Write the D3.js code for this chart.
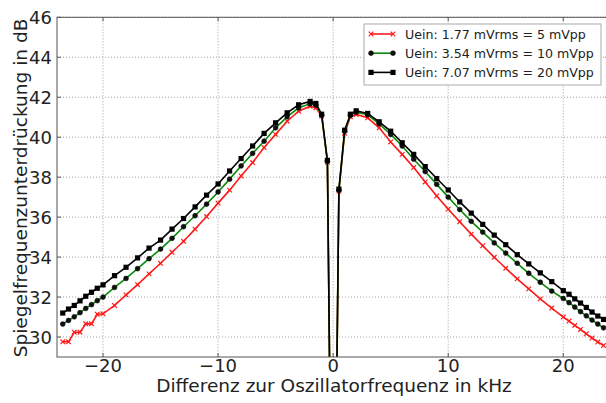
<!DOCTYPE html>
<html>
<head>
<meta charset="utf-8">
<script src="https://cdn.jsdelivr.net/npm/d3@7"></script>
<style>
  body { margin: 0; background: #fff; }
  text { font-family: "DejaVu Sans", sans-serif; fill: #222; }
</style>
</head>
<body>
<svg width="606" height="403"></svg>
<script>
// frequency offset in kHz, shared by all three measurements
var freq = [-23.5, -23, -22.5, -22, -21.5, -21, -20.5, -20, -19, -18, -17, -16, -15, -14, -13, -12, -11, -10,
  -9, -8, -7, -6, -5, -4, -3, -2, -1.5, -1, -0.5, 0, 0.5, 1, 1.5, 2, 3, 4, 5, 6, 7, 8, 9, 10,
  11, 12, 13, 14, 15, 16, 17, 18, 19, 20, 20.5, 21, 21.5, 22, 22.5, 23, 23.5];

// image rejection in dB
var u5 = [29.76, 29.76, 30.24, 30.24, 30.66, 30.66, 31.14, 31.16, 31.58, 32.11, 32.62, 33.16, 33.69, 34.24, 34.79, 35.4, 36.03, 36.7,
  37.35, 38.06, 38.73, 39.48, 40.14, 40.8, 41.3, 41.55, 41.47, 41.06, 38.75, 12, 37.3, 40.2, 41.02, 41.14, 40.97, 40.47, 39.76, 39.14, 38.48, 37.76, 37.06, 36.4,
  35.77, 35.15, 34.57, 33.99, 33.44, 32.91, 32.41, 31.91, 31.45, 31.0, 30.8, 30.58, 30.38, 30.16, 29.95, 29.75, 29.58];
var u10 = [30.65, 30.83, 31.01, 31.22, 31.43, 31.62, 31.82, 32.0, 32.48, 32.93, 33.42, 33.92, 34.4, 34.94, 35.52, 36.07, 36.65, 37.26,
  37.9, 38.56, 39.19, 39.8, 40.47, 41.02, 41.47, 41.67, 41.6, 41.1, 38.8, 12, 37.35, 40.3, 41.09, 41.25, 41.12, 40.67, 40.14, 39.56, 38.9, 38.28, 37.64, 37.0,
  36.38, 35.79, 35.25, 34.71, 34.2, 33.69, 33.19, 32.74, 32.3, 31.93, 31.72, 31.5, 31.27, 31.06, 30.85, 30.65, 30.46];
var u20 = [31.2, 31.4, 31.58, 31.81, 32.04, 32.24, 32.44, 32.61, 33.07, 33.49, 33.96, 34.45, 34.85, 35.4, 35.93, 36.51, 37.1, 37.66,
  38.31, 38.93, 39.56, 40.19, 40.72, 41.22, 41.62, 41.79, 41.69, 41.15, 38.84, 12, 37.4, 40.35, 41.15, 41.32, 41.19, 40.77, 40.3, 39.72, 39.14, 38.53, 37.93, 37.36,
  36.76, 36.2, 35.64, 35.1, 34.62, 34.12, 33.66, 33.21, 32.77, 32.32, 32.14, 31.91, 31.7, 31.48, 31.25, 31.05, 30.88];

var xTicks = [-20, -10, 0, 10, 20];
var yTicks = [30, 32, 34, 36, 38, 40, 42, 44, 46];
var labels = ["Uein: 1.77 mVrms = 5 mVpp", "Uein: 3.54 mVrms = 10 mVpp", "Uein: 7.07 mVrms = 20 mVpp"];

var svg = d3.select("svg");

var pLeft = 57, pRight = 609.3, pTop = 17.3, pBottom = 357;

var x = d3.scaleLinear().domain([-24, 24]).range([pLeft, pRight]);
var y = d3.scaleLinear().domain([29, 46]).range([pBottom, pTop]);

var frameColor = "#555";

svg.append("defs").append("clipPath").attr("id", "plot")
  .append("rect").attr("x", pLeft).attr("y", pTop)
  .attr("width", pRight - pLeft).attr("height", pBottom - pTop);

// grid
var grid = svg.append("g");
grid.selectAll(".gx").data(xTicks).enter().append("line")
  .attr("x1", function(d) { return x(d); }).attr("x2", function(d) { return x(d); })
  .attr("y1", pTop).attr("y2", pBottom);
grid.selectAll(".gy").data(yTicks).enter().append("line")
  .attr("x1", pLeft).attr("x2", pRight)
  .attr("y1", function(d) { return y(d); }).attr("y2", function(d) { return y(d); });
grid.selectAll("line")
  .attr("stroke", "#999").attr("stroke-width", 0.9).attr("stroke-dasharray", "1,2");

// series, red first, black last so it sits on top
var series = [
  {name: labels[0], values: u5, color: "#ff1a1a", marker: "x"},
  {name: labels[1], values: u10, color: "#0a8a0a", marker: "circle"},
  {name: labels[2], values: u20, color: "#000", marker: "square"}
];

var line = d3.line()
  .x(function(d) { return x(d[0]); })
  .y(function(d) { return y(d[1]); });

function drawMarker(g, type, color) {
  if (type === "x") {
    g.append("path").attr("d", "M-2.3,-2.3L2.3,2.3M-2.3,2.3L2.3,-2.3")
      .attr("stroke", color).attr("stroke-width", 1.2);
  } else if (type === "circle") {
    g.append("circle").attr("r", 2.4).attr("fill", "#111")
      .attr("stroke", "#000").attr("stroke-width", 0.6);
  } else {
    g.append("rect").attr("x", -2.6).attr("y", -2.6).attr("width", 5.2).attr("height", 5.2)
      .attr("fill", "#000");
  }
}

var plot = svg.append("g").attr("clip-path", "url(#plot)");

series.forEach(function(s) {
  var pts = freq.map(function(f, i) { return [f, s.values[i]]; });
  plot.append("path")
    .datum(pts)
    .attr("d", line)
    .attr("fill", "none")
    .attr("stroke", s.color)
    .attr("stroke-width", 1.6);
  plot.selectAll(null)
    .data(pts)
    .enter().append("g")
    .attr("transform", function(d) { return "translate(" + x(d[0]) + "," + y(d[1]) + ")"; })
    .each(function() { drawMarker(d3.select(this), s.marker, s.color); });
});

// frame and inward ticks
svg.append("rect")
  .attr("x", pLeft).attr("y", pTop)
  .attr("width", pRight - pLeft).attr("height", pBottom - pTop)
  .attr("fill", "none").attr("stroke", frameColor).attr("stroke-width", 1);

var ticks = svg.append("g").attr("stroke", frameColor).attr("stroke-width", 1);
xTicks.forEach(function(t) {
  ticks.append("line").attr("x1", x(t)).attr("x2", x(t)).attr("y1", pBottom).attr("y2", pBottom - 4);
  ticks.append("line").attr("x1", x(t)).attr("x2", x(t)).attr("y1", pTop).attr("y2", pTop + 4);
});
yTicks.forEach(function(t) {
  ticks.append("line").attr("x1", pLeft).attr("x2", pLeft + 4).attr("y1", y(t)).attr("y2", y(t));
  ticks.append("line").attr("x1", pRight).attr("x2", pRight - 4).attr("y1", y(t)).attr("y2", y(t));
});

// tick labels
svg.selectAll(".xl").data(xTicks).enter().append("text")
  .attr("x", function(d) { return x(d); })
  .attr("y", pBottom + 15)
  .attr("text-anchor", "middle")
  .style("font-size", "18px")
  .text(function(d) { return d < 0 ? "\u2212" + Math.abs(d) : d; });

svg.selectAll(".yl").data(yTicks).enter().append("text")
  .attr("x", pLeft - 5)
  .attr("y", function(d) { return y(d) + 6.5; })
  .attr("text-anchor", "end")
  .style("font-size", "18px")
  .text(function(d) { return d; });

// axis titles
svg.append("text")
  .attr("x", 334).attr("y", 392)
  .attr("text-anchor", "middle")
  .style("font-size", "18.5px")
  .text("Differenz zur Oszillatorfrequenz in kHz");

svg.append("text")
  .attr("transform", "translate(27," + 188 + ") rotate(-90)")
  .attr("text-anchor", "middle")
  .style("font-size", "18.5px")
  .text("Spiegelfrequenzunterdrückung in dB");

// legend
var legend = svg.append("g");
legend.append("rect")
  .attr("x", 364).attr("y", 24).attr("width", 237).attr("height", 61)
  .attr("fill", "#fff").attr("stroke", "#aaa").attr("stroke-width", 1);

series.forEach(function(s, i) {
  var ly = 34 + i * 19.2;
  legend.append("line")
    .attr("x1", 371).attr("x2", 393).attr("y1", ly).attr("y2", ly)
    .attr("stroke", s.color).attr("stroke-width", 1.6);
  [371, 393].forEach(function(mx) {
    var g = legend.append("g").attr("transform", "translate(" + mx + "," + ly + ")");
    drawMarker(g, s.marker, s.color);
  });
  legend.append("text")
    .attr("x", 405).attr("y", ly + 4.5)
    .style("font-size", "12.6px")
    .text(s.name);
});
</script>
</body>
</html>
